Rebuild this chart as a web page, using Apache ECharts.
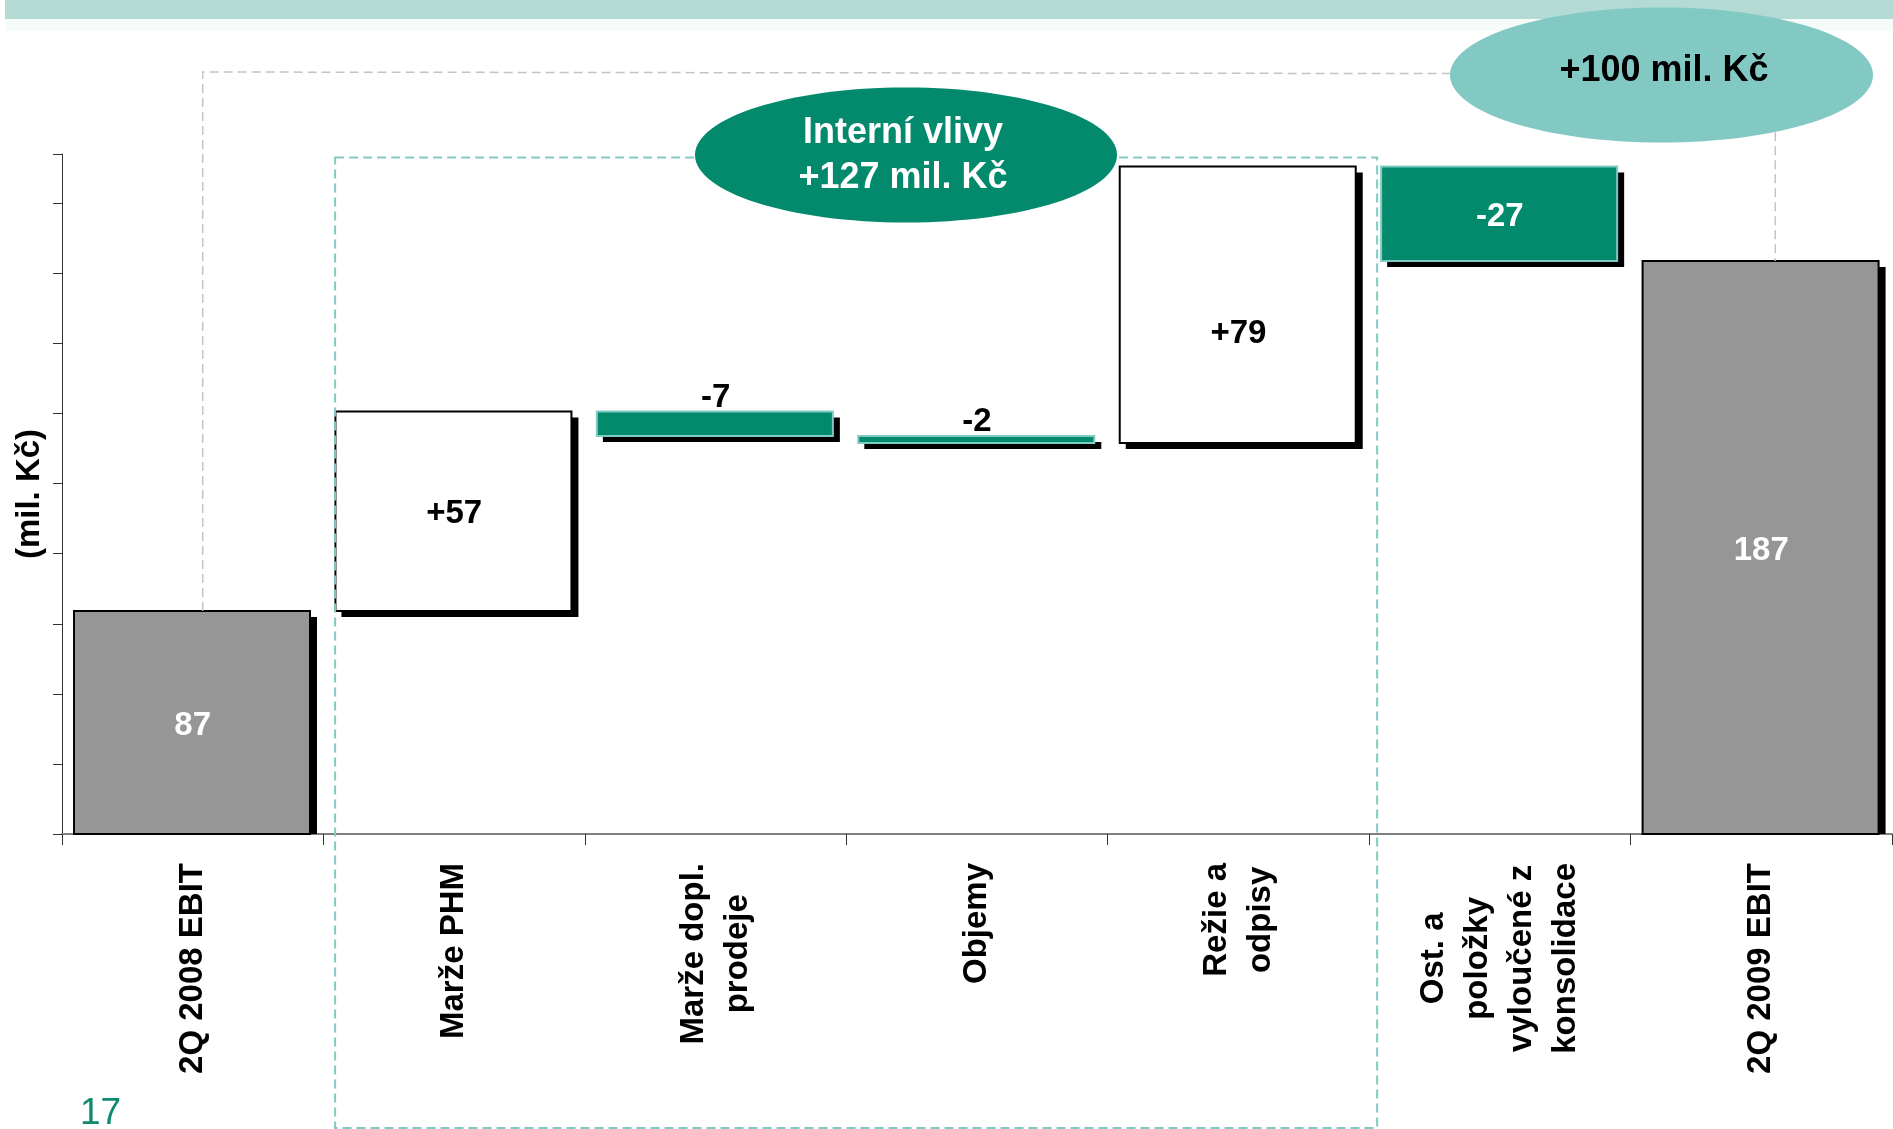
<!DOCTYPE html>
<html>
<head>
<meta charset="utf-8">
<script src="https://cdn.jsdelivr.net/npm/echarts@6/dist/echarts.min.js"></script>
<style>
  html, body { margin: 0; padding: 0; background: #ffffff; }
  #chart { width: 1893px; height: 1129px; }
</style>
</head>
<body>
<div id="chart"></div>
<script>
// EBIT bridge 2Q 2008 -> 2Q 2009 (mil. Kč)
const categories = [
  '2Q 2008 EBIT',
  'Marže PHM',
  'Marže dopl.\nprodeje',
  'Objemy',
  'Režie a\nodpisy',
  'Ost. a\npoložky\nvyloučené z\nkonsolidace',
  '2Q 2009 EBIT'
];
// first and last entries are totals, the rest are changes
const changes = [87, 57, -7, -2, 79, -27, 187];
const internalNote = 'Interní vlivy\n+127 mil. Kč';
const totalNote = '+100 mil. Kč';
const unitName = '(mil. Kč)';
const pageNumber = '17';

const FONT = '"Liberation Sans", Arial, Helvetica, sans-serif';
const GREEN = '#03896b';
const GREEN_EDGE = '#7fcbc3';
const GREY = '#969696';
const BAR_W = 236;
const SHADOW = 6;
// vertical nudge of a value label inside its bar (by category index)
const labelNudge = { 4: 26 };

// waterfall steps as [index, low, high, change]
const lastIdx = changes.length - 1;
const steps = [];
let running = 0;
changes.forEach((v, i) => {
  if (i === 0 || i === lastIdx) {
    steps.push([i, 0, v, v]); running = v;
  } else if (v >= 0) {
    steps.push([i, running, running + v, v]); running += v;
  } else {
    steps.push([i, running + v, running, v]); running += v;
  }
});

function renderStep(params, api) {
  const idx = api.value(0);
  const lo = api.value(1);
  const hi = api.value(2);
  const d = api.value(3);
  const cs = params.coordSys;
  const floor = cs.y + cs.height;
  const pTop = api.coord([idx, hi]);
  const pLow = api.coord([idx, lo]);
  const yTop = pTop[1];
  const yLow = Math.min(pLow[1], floor);
  const x = pTop[0] - BAR_W / 2 - 0.7;
  const h = yLow - yTop;

  const isTotal = idx === 0 || idx === lastIdx;
  const small = Math.abs(d) < 10;
  let fill, edge, txt;
  if (isTotal) { fill = GREY; edge = '#000'; txt = '#fff'; }
  else if (d >= 0) { fill = '#fff'; edge = '#000'; txt = '#000'; }
  else { fill = GREEN; edge = GREEN_EDGE; txt = small ? '#000' : '#fff'; }

  const text = isTotal ? String(d) : (d > 0 ? '+' + d : String(d));
  const ty = small ? yTop - 14 : yTop + h / 2 + 3 + (labelNudge[idx] || 0);

  return {
    type: 'group',
    children: [
      {
        type: 'rect',
        shape: { x: x + SHADOW, y: yTop + SHADOW, width: BAR_W + 1, height: Math.min(yLow + SHADOW, floor) - (yTop + SHADOW) },
        style: { fill: '#000' }
      },
      {
        type: 'rect',
        shape: { x: x, y: yTop, width: BAR_W, height: h },
        style: { fill: fill, stroke: edge, lineWidth: 2 }
      },
      {
        type: 'text',
        x: pTop[0],
        y: ty,
        style: { text: text, fill: txt, font: 'bold 33px ' + FONT, align: 'center', verticalAlign: 'middle' }
      }
    ]
  };
}

const chart = echarts.init(document.getElementById('chart'), null, { renderer: 'canvas' });

chart.setOption({
  animation: false,
  backgroundColor: '#ffffff',
  grid: { left: 62, right: 1, top: 154, bottom: 295, containLabel: false, outerBoundsMode: 'none' },
  xAxis: {
    type: 'category',
    data: categories,
    axisLine: { onZero: false, lineStyle: { color: '#808080', width: 2 } },
    axisTick: { show: true, length: 11, lineStyle: { color: '#333', width: 1 } },
    axisLabel: {
      interval: 0,
      rotate: 90,
      margin: 29,
      fontFamily: FONT,
      fontWeight: 'bold',
      fontSize: 33,
      lineHeight: 44,
      color: '#000',
      formatter: (s) => s.split('\n').map(line => '{c|' + line + '}').join('\n'),
      rich: {
        c: { align: 'center', fontFamily: FONT, fontWeight: 'bold', fontSize: 33, lineHeight: 44, color: '#000' }
      }
    },
    splitLine: { show: false }
  },
  yAxis: [
    { type: 'value', min: 23.3, max: 217.6, show: false, position: 'right' },
    {
      // tick ruler drawn along the left edge
      type: 'value', min: 0, max: 9.705, interval: 1, position: 'left',
      axisLine: { show: true, lineStyle: { color: '#333', width: 1 } },
      axisTick: { show: true, length: 9, lineStyle: { color: '#333', width: 1 } },
      axisLabel: { show: false },
      splitLine: { show: false },
      name: unitName,
      nameLocation: 'middle',
      nameRotate: 90,
      nameGap: 16,
      nameTextStyle: { fontFamily: FONT, fontWeight: 'bold', fontSize: 33, color: '#000' }
    }
  ],
  series: [
    {
      type: 'custom',
      name: 'EBIT',
      xAxisIndex: 0,
      yAxisIndex: 0,
      clip: false,
      encode: { x: 0, y: [1, 2] },
      renderItem: renderStep,
      data: steps
    }
  ]
});

// annotations anchored to the axis scales
const px = (i, v) => chart.convertToPixel({ xAxisIndex: 0, yAxisIndex: 0 }, [i, v]);
const first = px(0, changes[0]);
const last = px(lastIdx, changes[lastIdx]);
const peak = px(4, steps[4][2]);
const leftEdge = px(1, 0)[0] - 119;
const rightEdge = (px(4, 0)[0] + px(5, 0)[0]) / 2 + 8;

chart.setOption({
  graphic: [
    { type: 'rect', z: 100, shape: { x: 5, y: 0, width: 1888, height: 19 }, style: { fill: '#b3dbd4' } },
    { type: 'rect', z: 100, shape: { x: 5, y: 19, width: 1888, height: 12 }, style: { fill: '#f5fbf9' } },
    {
      type: 'polyline', z: 101,
      shape: { points: [[first[0] + 10, first[1]], [first[0] + 10, 72], [last[0] + 14, 74], [last[0] + 14, last[1]]] },
      style: { stroke: '#c4c4c4', lineWidth: 1.5, lineDash: [9, 5], fill: null }
    },
    {
      type: 'rect', z: 102,
      shape: { x: leftEdge, y: peak[1] - 9, width: rightEdge - leftEdge, height: 1128 - (peak[1] - 9) },
      style: { stroke: '#80cac3', lineWidth: 2, lineDash: [9, 5], fill: null }
    },
    {
      type: 'ellipse', z: 110,
      shape: { cx: 906, cy: 155, rx: 211, ry: 67.5 },
      style: { fill: GREEN }
    },
    {
      type: 'text', z: 111, x: 903, y: 156,
      style: {
        text: internalNote, fill: '#fff', font: 'bold 36px ' + FONT,
        lineHeight: 45, align: 'center', verticalAlign: 'middle'
      }
    },
    {
      type: 'ellipse', z: 110,
      shape: { cx: 1661.5, cy: 75, rx: 211.5, ry: 67.5 },
      style: { fill: '#82c9c4' }
    },
    {
      type: 'text', z: 111, x: 1664, y: 71,
      style: { text: totalNote, fill: '#000', font: 'bold 36px ' + FONT, align: 'center', verticalAlign: 'middle' }
    },
    {
      type: 'text', z: 111, x: 80, y: 1114,
      style: { text: pageNumber, fill: '#0f8a6e', font: '37px ' + FONT, align: 'left', verticalAlign: 'middle' }
    }
  ]
});
</script>
</body>
</html>
